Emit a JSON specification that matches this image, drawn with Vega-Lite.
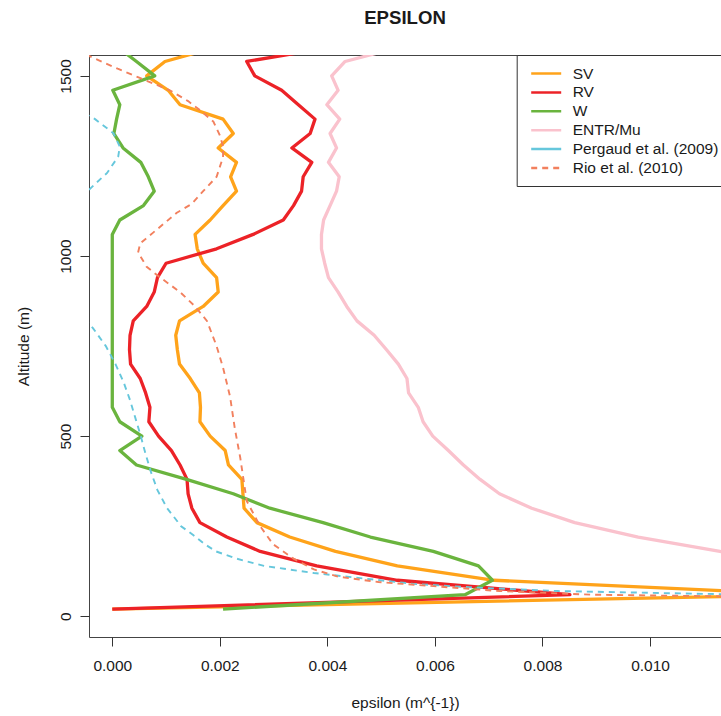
{
  "$schema": "https://vega.github.io/schema/vega-lite/v6.json",
  "width": 632,
  "height": 582,
  "autosize": {"type": "none"},
  "padding": {"left": 89, "top": 55, "right": 0, "bottom": 79},
  "background": "white",
  "config": {
    "font": "Liberation Sans",
    "view": {"stroke": "#444", "strokeWidth": 1},
    "axis": {"grid": false, "domain": false, "tickSize": 9, "tickColor": "#333", "labelFontSize": 15.5, "labelColor": "#1a1a1a", "titleFontSize": 15.5, "titleFontWeight": "normal", "titleColor": "#1a1a1a", "labelFont": "Liberation Sans", "titleFont": "Liberation Sans"}
  },
  "title": {"text": "EPSILON", "fontSize": 18.6, "fontWeight": "bold", "font": "Liberation Sans", "color": "#1a1a1a", "frame": "group", "anchor": "middle", "baseline": "alphabetic", "offset": 12},
  "data": {"values": [
    {"s":"SV","z":20,"x":0.0},{"s":"SV","z":60,"x":0.0130},{"s":"SV","z":100,"x":0.0071},{"s":"SV","z":140,"x":0.0053},{"s":"SV","z":180,"x":0.00415},{"s":"SV","z":220,"x":0.0033},{"s":"SV","z":260,"x":0.00269},{"s":"SV","z":300,"x":0.00245},{"s":"SV","z":340,"x":0.00243},{"s":"SV","z":380,"x":0.00241},{"s":"SV","z":420,"x":0.00216},{"s":"SV","z":460,"x":0.0021},{"s":"SV","z":500,"x":0.00182},{"s":"SV","z":540,"x":0.00163},{"s":"SV","z":580,"x":0.00164},{"s":"SV","z":620,"x":0.00162},{"s":"SV","z":660,"x":0.00145},{"s":"SV","z":700,"x":0.00125},{"s":"SV","z":740,"x":0.00121},{"s":"SV","z":780,"x":0.00118},{"s":"SV","z":820,"x":0.00125},{"s":"SV","z":860,"x":0.00169},{"s":"SV","z":900,"x":0.00197},{"s":"SV","z":940,"x":0.00194},{"s":"SV","z":980,"x":0.00169},{"s":"SV","z":1020,"x":0.00158},{"s":"SV","z":1060,"x":0.00154},{"s":"SV","z":1100,"x":0.00182},{"s":"SV","z":1140,"x":0.00206},{"s":"SV","z":1180,"x":0.00231},{"s":"SV","z":1220,"x":0.0022},{"s":"SV","z":1260,"x":0.00231},{"s":"SV","z":1300,"x":0.00197},{"s":"SV","z":1340,"x":0.00225},{"s":"SV","z":1380,"x":0.00206},{"s":"SV","z":1420,"x":0.00126},{"s":"SV","z":1460,"x":0.00104},{"s":"SV","z":1500,"x":0.00064},{"s":"SV","z":1540,"x":0.00098},{"s":"SV","z":1580,"x":0.00194},
    {"s":"RV","z":20,"x":0.0},{"s":"RV","z":60,"x":0.00851},{"s":"RV","z":100,"x":0.0053},{"s":"RV","z":140,"x":0.0038},{"s":"RV","z":180,"x":0.00275},{"s":"RV","z":220,"x":0.00213},{"s":"RV","z":260,"x":0.00163},{"s":"RV","z":300,"x":0.00148},{"s":"RV","z":340,"x":0.00141},{"s":"RV","z":380,"x":0.00139},{"s":"RV","z":420,"x":0.00126},{"s":"RV","z":460,"x":0.0011},{"s":"RV","z":500,"x":0.00086},{"s":"RV","z":540,"x":0.00068},{"s":"RV","z":580,"x":0.0007},{"s":"RV","z":620,"x":0.00062},{"s":"RV","z":660,"x":0.00052},{"s":"RV","z":700,"x":0.00034},{"s":"RV","z":740,"x":0.00032},{"s":"RV","z":780,"x":0.00033},{"s":"RV","z":820,"x":0.00039},{"s":"RV","z":860,"x":0.00064},{"s":"RV","z":900,"x":0.00078},{"s":"RV","z":940,"x":0.00084},{"s":"RV","z":980,"x":0.001},{"s":"RV","z":1020,"x":0.00194},{"s":"RV","z":1060,"x":0.00262},{"s":"RV","z":1100,"x":0.00318},{"s":"RV","z":1140,"x":0.00337},{"s":"RV","z":1180,"x":0.00352},{"s":"RV","z":1220,"x":0.00355},{"s":"RV","z":1260,"x":0.00371},{"s":"RV","z":1300,"x":0.00334},{"s":"RV","z":1340,"x":0.00368},{"s":"RV","z":1380,"x":0.00377},{"s":"RV","z":1420,"x":0.00346},{"s":"RV","z":1460,"x":0.00315},{"s":"RV","z":1500,"x":0.00265},{"s":"RV","z":1540,"x":0.0025},{"s":"RV","z":1580,"x":0.0041},
    {"s":"W","z":20,"x":0.00206},{"s":"W","z":60,"x":0.00656},{"s":"W","z":100,"x":0.00707},{"s":"W","z":140,"x":0.00681},{"s":"W","z":180,"x":0.00597},{"s":"W","z":220,"x":0.0048},{"s":"W","z":260,"x":0.00392},{"s":"W","z":300,"x":0.00293},{"s":"W","z":340,"x":0.00225},{"s":"W","z":380,"x":0.00138},{"s":"W","z":420,"x":0.00045},{"s":"W","z":460,"x":0.00014},{"s":"W","z":500,"x":0.00055},{"s":"W","z":540,"x":0.00014},{"s":"W","z":580,"x":0.0},{"s":"W","z":620,"x":0.0},{"s":"W","z":660,"x":0.0},{"s":"W","z":700,"x":0.0},{"s":"W","z":740,"x":0.0},{"s":"W","z":780,"x":0.0},{"s":"W","z":820,"x":0.0},{"s":"W","z":860,"x":0.0},{"s":"W","z":900,"x":0.0},{"s":"W","z":940,"x":0.0},{"s":"W","z":980,"x":0.0},{"s":"W","z":1020,"x":0.0},{"s":"W","z":1060,"x":0.0},{"s":"W","z":1100,"x":0.00014},{"s":"W","z":1140,"x":0.00058},{"s":"W","z":1180,"x":0.00078},{"s":"W","z":1220,"x":0.00067},{"s":"W","z":1260,"x":0.00053},{"s":"W","z":1300,"x":0.0002},{"s":"W","z":1340,"x":0.00003},{"s":"W","z":1380,"x":0.00008},{"s":"W","z":1420,"x":0.00014},{"s":"W","z":1460,"x":0.00001},{"s":"W","z":1500,"x":0.00079},{"s":"W","z":1540,"x":0.00045},{"s":"W","z":1580,"x":0.0001},
    {"s":"ENTR/Mu","z":100,"x":0.0145},{"s":"ENTR/Mu","z":140,"x":0.0128},{"s":"ENTR/Mu","z":180,"x":0.0113},{"s":"ENTR/Mu","z":220,"x":0.00978},{"s":"ENTR/Mu","z":260,"x":0.0086},{"s":"ENTR/Mu","z":300,"x":0.0078},{"s":"ENTR/Mu","z":340,"x":0.0072},{"s":"ENTR/Mu","z":380,"x":0.00684},{"s":"ENTR/Mu","z":420,"x":0.00653},{"s":"ENTR/Mu","z":460,"x":0.00625},{"s":"ENTR/Mu","z":500,"x":0.00596},{"s":"ENTR/Mu","z":540,"x":0.00578},{"s":"ENTR/Mu","z":580,"x":0.00569},{"s":"ENTR/Mu","z":620,"x":0.00551},{"s":"ENTR/Mu","z":660,"x":0.00548},{"s":"ENTR/Mu","z":700,"x":0.00532},{"s":"ENTR/Mu","z":740,"x":0.0051},{"s":"ENTR/Mu","z":780,"x":0.00487},{"s":"ENTR/Mu","z":820,"x":0.00455},{"s":"ENTR/Mu","z":860,"x":0.00436},{"s":"ENTR/Mu","z":900,"x":0.0042},{"s":"ENTR/Mu","z":940,"x":0.00402},{"s":"ENTR/Mu","z":980,"x":0.00395},{"s":"ENTR/Mu","z":1020,"x":0.00389},{"s":"ENTR/Mu","z":1060,"x":0.00389},{"s":"ENTR/Mu","z":1100,"x":0.00393},{"s":"ENTR/Mu","z":1140,"x":0.00405},{"s":"ENTR/Mu","z":1180,"x":0.00417},{"s":"ENTR/Mu","z":1220,"x":0.00422},{"s":"ENTR/Mu","z":1260,"x":0.00402},{"s":"ENTR/Mu","z":1300,"x":0.00417},{"s":"ENTR/Mu","z":1340,"x":0.00405},{"s":"ENTR/Mu","z":1380,"x":0.00423},{"s":"ENTR/Mu","z":1420,"x":0.00399},{"s":"ENTR/Mu","z":1460,"x":0.0042},{"s":"ENTR/Mu","z":1500,"x":0.00408},{"s":"ENTR/Mu","z":1540,"x":0.00433},{"s":"ENTR/Mu","z":1580,"x":0.00535},
    {"s":"Pergaud et al. (2009)","z":60,"x":0.0118},{"s":"Pergaud et al. (2009)","z":70,"x":0.0083},{"s":"Pergaud et al. (2009)","z":80,"x":0.0067},{"s":"Pergaud et al. (2009)","z":90,"x":0.0056},{"s":"Pergaud et al. (2009)","z":100,"x":0.00498},{"s":"Pergaud et al. (2009)","z":120,"x":0.00375},{"s":"Pergaud et al. (2009)","z":140,"x":0.00282},{"s":"Pergaud et al. (2009)","z":160,"x":0.00231},{"s":"Pergaud et al. (2009)","z":180,"x":0.00193},{"s":"Pergaud et al. (2009)","z":200,"x":0.00172},{"s":"Pergaud et al. (2009)","z":225,"x":0.00151},{"s":"Pergaud et al. (2009)","z":250,"x":0.00128},{"s":"Pergaud et al. (2009)","z":300,"x":0.00102},{"s":"Pergaud et al. (2009)","z":350,"x":0.00084},{"s":"Pergaud et al. (2009)","z":400,"x":0.00072},{"s":"Pergaud et al. (2009)","z":450,"x":0.00062},{"s":"Pergaud et al. (2009)","z":500,"x":0.00053},{"s":"Pergaud et al. (2009)","z":550,"x":0.00043},{"s":"Pergaud et al. (2009)","z":600,"x":0.00033},{"s":"Pergaud et al. (2009)","z":650,"x":0.00021},{"s":"Pergaud et al. (2009)","z":700,"x":0.00006},{"s":"Pergaud et al. (2009)","z":750,"x":-0.00012},{"s":"Pergaud et al. (2009)","z":800,"x":-0.00036},{"s":"Pergaud et al. (2009)","z":850,"x":-0.00065},{"s":"Pergaud et al. (2009)","z":900,"x":-0.001},{"s":"Pergaud et al. (2009)","z":1000,"x":-0.0015},{"s":"Pergaud et al. (2009)","z":1100,"x":-0.001},{"s":"Pergaud et al. (2009)","z":1160,"x":-0.0006},{"s":"Pergaud et al. (2009)","z":1200,"x":-0.00032},{"s":"Pergaud et al. (2009)","z":1230,"x":-0.0001},{"s":"Pergaud et al. (2009)","z":1276,"x":0.00011},{"s":"Pergaud et al. (2009)","z":1304,"x":0.00014},{"s":"Pergaud et al. (2009)","z":1341,"x":0.00002},{"s":"Pergaud et al. (2009)","z":1380,"x":-0.00032},{"s":"Pergaud et al. (2009)","z":1420,"x":-0.0008},{"s":"Pergaud et al. (2009)","z":1500,"x":-0.0015},
    {"s":"Rio et al. (2010)","z":50,"x":0.014},{"s":"Rio et al. (2010)","z":60,"x":0.0089},{"s":"Rio et al. (2010)","z":70,"x":0.0072},{"s":"Rio et al. (2010)","z":80,"x":0.0063},{"s":"Rio et al. (2010)","z":95,"x":0.00495},{"s":"Rio et al. (2010)","z":110,"x":0.0042},{"s":"Rio et al. (2010)","z":130,"x":0.00375},{"s":"Rio et al. (2010)","z":160,"x":0.00337},{"s":"Rio et al. (2010)","z":200,"x":0.00299},{"s":"Rio et al. (2010)","z":250,"x":0.00275},{"s":"Rio et al. (2010)","z":320,"x":0.0025},{"s":"Rio et al. (2010)","z":380,"x":0.00244},{"s":"Rio et al. (2010)","z":440,"x":0.00238},{"s":"Rio et al. (2010)","z":520,"x":0.00228},{"s":"Rio et al. (2010)","z":610,"x":0.00219},{"s":"Rio et al. (2010)","z":690,"x":0.00206},{"s":"Rio et al. (2010)","z":750,"x":0.00194},{"s":"Rio et al. (2010)","z":820,"x":0.00176},{"s":"Rio et al. (2010)","z":860,"x":0.00154},{"s":"Rio et al. (2010)","z":900,"x":0.00126},{"s":"Rio et al. (2010)","z":945,"x":0.00085},{"s":"Rio et al. (2010)","z":970,"x":0.00064},{"s":"Rio et al. (2010)","z":1010,"x":0.00048},{"s":"Rio et al. (2010)","z":1035,"x":0.00052},{"s":"Rio et al. (2010)","z":1065,"x":0.00076},{"s":"Rio et al. (2010)","z":1120,"x":0.0012},{"s":"Rio et al. (2010)","z":1145,"x":0.00148},{"s":"Rio et al. (2010)","z":1180,"x":0.00169},{"s":"Rio et al. (2010)","z":1220,"x":0.00194},{"s":"Rio et al. (2010)","z":1275,"x":0.00206},{"s":"Rio et al. (2010)","z":1305,"x":0.00206},{"s":"Rio et al. (2010)","z":1335,"x":0.002},{"s":"Rio et al. (2010)","z":1373,"x":0.00188},{"s":"Rio et al. (2010)","z":1405,"x":0.00163},{"s":"Rio et al. (2010)","z":1430,"x":0.00141},{"s":"Rio et al. (2010)","z":1460,"x":0.00107},{"s":"Rio et al. (2010)","z":1495,"x":0.0005},{"s":"Rio et al. (2010)","z":1520,"x":0.0001},{"s":"Rio et al. (2010)","z":1560,"x":-0.0005}
  ]},
  "encoding": {
    "x": {"field": "x", "type": "quantitative", "scale": {"domain": [-0.000433, 0.01132], "nice": false, "zero": false},
      "axis": {"title": "epsilon (m^{-1})", "values": [0, 0.002, 0.004, 0.006, 0.008, 0.01], "format": ".3f", "labelPadding": 12, "titlePadding": 22}},
    "y": {"field": "z", "type": "quantitative", "scale": {"domain": [-57.5, 1558], "nice": false, "zero": false},
      "axis": {"title": "Altitude (m)", "values": [0, 500, 1000, 1500], "format": "d", "labelAngle": -90, "labelAlign": "center", "labelBaseline": "bottom", "labelPadding": 7, "titlePadding": 27}},
    "order": {"field": "z", "type": "quantitative"},
    "color": {"field": "s", "type": "nominal",
      "scale": {"domain": ["SV", "RV", "W", "ENTR/Mu", "Pergaud et al. (2009)", "Rio et al. (2010)"], "range": ["#FFA31A", "#EC2227", "#6AB43E", "#FAC2CD", "#66C7DC", "#F2805E"]},
      "legend": {"title": null, "orient": "none", "legendX": 427.7, "legendY": 0, "strokeColor": "#333", "fillColor": "white", "padding": 9.5, "symbolOffset": 11, "symbolType": "M-2,0H2", "symbolSize": 225, "symbolStrokeWidth": 2.5, "labelFontSize": 15.5, "labelFont": "Liberation Sans", "labelColor": "#1a1a1a", "labelOffset": 17.5, "rowPadding": 0.9, "labelLimit": 400,
        "encode": {"symbols": {"update": {"strokeDash": {"signal": "datum.value === 'Rio et al. (2010)' ? [6, 5] : [1, 0]"}}}}}}
  },
  "layer": [
    {"transform": [{"filter": "datum.s === 'SV' || datum.s === 'RV' || datum.s === 'W' || datum.s === 'ENTR/Mu'"}],
     "mark": {"type": "line", "clip": true, "strokeWidth": 3.3, "strokeJoin": "round"}},
    {"transform": [{"filter": "datum.s === 'Pergaud et al. (2009)' || datum.s === 'Rio et al. (2010)'"}],
     "mark": {"type": "line", "clip": true, "strokeWidth": 1.9, "strokeDash": [6, 5]}}
  ]
}
